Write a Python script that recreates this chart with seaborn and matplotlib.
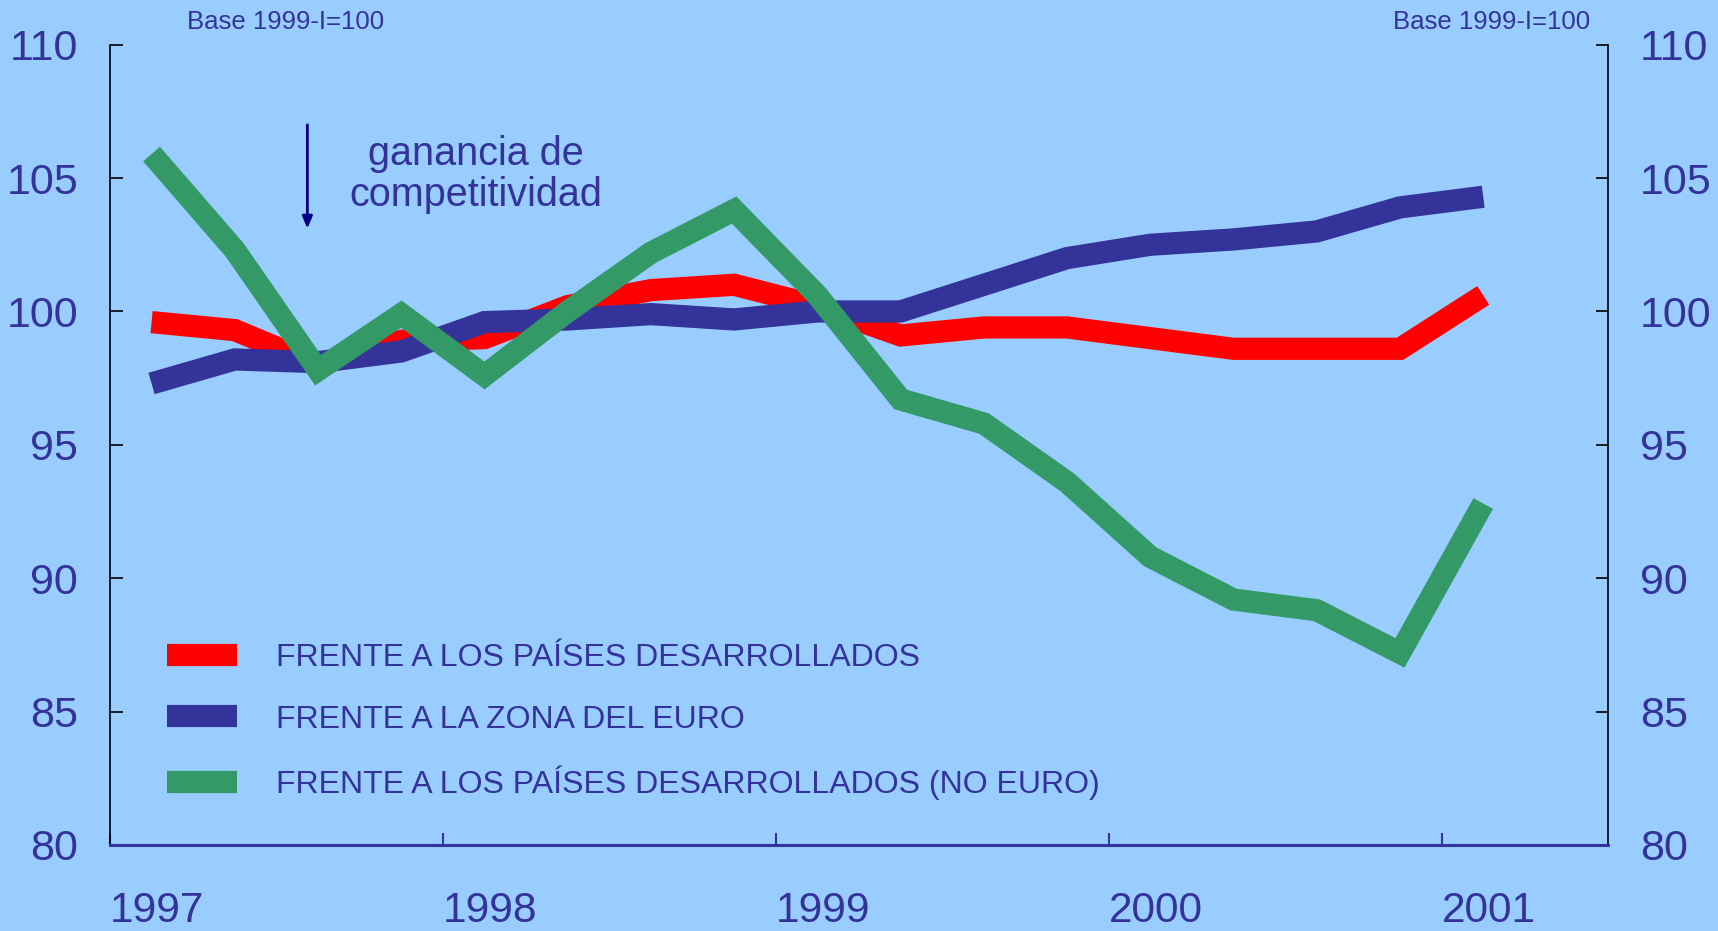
import matplotlib
matplotlib.use("Agg")
import matplotlib.pyplot as plt
import seaborn as sns
import pandas as pd
import numpy as np

# ---- data (quarterly, 1997-I .. 2001-I), base 1999-I = 100 ----
quarters = ["1997-I", "1997-II", "1997-III", "1997-IV",
            "1998-I", "1998-II", "1998-III", "1998-IV",
            "1999-I", "1999-II", "1999-III", "1999-IV",
            "2000-I", "2000-II", "2000-III", "2000-IV",
            "2001-I"]
desarrollados = [99.6, 99.3, 98.0, 98.9, 99.0, 100.2, 100.8, 101.0, 100.2,
                 99.1, 99.4, 99.4, 99.0, 98.6, 98.6, 98.6, 100.6]
zona_euro = [97.3, 98.2, 98.1, 98.5, 99.6, 99.7, 99.9, 99.7, 100.0,
             100.0, 101.0, 102.0, 102.5, 102.7, 103.0, 103.9, 104.3]
no_euro = [105.9, 102.3, 97.8, 99.9, 97.6, 100.0, 102.2, 103.8, 100.6,
           96.7, 95.8, 93.6, 90.8, 89.2, 88.8, 87.2, 92.8]
series_labels = ["FRENTE A LOS PAÍSES DESARROLLADOS",
                 "FRENTE A LA ZONA DEL EURO",
                 "FRENTE A LOS PAÍSES DESARROLLADOS (NO EURO)"]
year_labels = ["1997", "1998", "1999", "2000", "2001"]
y_ticks = [80, 85, 90, 95, 100, 105, 110]

# ---- styling ----
BG = "#99CCFF"
TXT = "#333399"
colors = ["#FF0000", "#333399", "#339966"]

sns.set_theme(style="white")
plt.rcParams["font.family"] = ["Liberation Sans", "DejaVu Sans"]

# x positions: mid-quarter
def qpos(q):
    y, r = q.split("-")
    k = {"I": 0, "II": 1, "III": 2, "IV": 3}[r]
    return int(y) + 0.125 + 0.25 * k

xs = [qpos(q) for q in quarters]
df = pd.DataFrame({"x": xs * 3,
                   "valor": desarrollados + zona_euro + no_euro,
                   "serie": [series_labels[0]] * len(xs) + [series_labels[1]] * len(xs)
                            + [series_labels[2]] * len(xs)})

fig = plt.figure(figsize=(17.18, 9.31), dpi=100, facecolor=BG)
ax = fig.add_axes([0.064, 0.0924, 0.872, 0.8596])
ax.set_facecolor(BG)

for lab, col in zip(series_labels, colors):
    sns.lineplot(data=df[df["serie"] == lab], x="x", y="valor", ax=ax, color=col,
                 linewidth=16, label=lab, solid_capstyle="butt",
                 solid_joinstyle="miter")

ax.set_xlim(1997, 2001.5)
ax.set_ylim(80, 110)
ax.set_xlabel("")
ax.set_ylabel("")

ax.set_xticks([int(y) for y in year_labels])
ax.set_xticklabels(year_labels, ha="left")
ax.set_yticks(y_ticks)
ax.set_yticklabels([str(v) for v in y_ticks])

ax.tick_params(axis="y", which="both", left=True, right=True, labelleft=True,
               labelright=True, direction="in", length=9, width=1.2, color="black",
               labelsize=31, labelcolor=TXT, pad=23)
ax.tick_params(axis="x", which="both", bottom=True, direction="in", length=9,
               width=1.5, color=TXT, labelsize=30.5, labelcolor=TXT, pad=33)

for s in ["left", "right"]:
    ax.spines[s].set_visible(True)
    ax.spines[s].set_color("black")
    ax.spines[s].set_linewidth(1.2)
ax.spines["top"].set_visible(False)
ax.spines["bottom"].set_color(TXT)
ax.spines["bottom"].set_linewidth(2.2)

leg = ax.legend(loc="upper left", bbox_to_anchor=(0.0295, 0.268), frameon=False,
                fontsize=23, handlelength=2.2, handletextpad=1.2,
                labelspacing=0.98, borderaxespad=0)
for t in leg.get_texts():
    t.set_color(TXT)

# annotation arrow
ax.annotate("", xy=(1997.593, 103.0), xytext=(1997.593, 107.1),
            arrowprops=dict(arrowstyle="-|>,head_length=0.6,head_width=0.25",
                            color="#000080", lw=2))
ax.text(1998.1, 105.15, "ganancia de\ncompetitividad", ha="center", va="center",
        fontsize=28.5, color=TXT, linespacing=1.1)

fig.text(286 / 1718, 1 - 22 / 931, "Base 1999-I=100", ha="center", va="center",
         fontsize=18.5, color=TXT)
fig.text(1492 / 1718, 1 - 22 / 931, "Base 1999-I=100", ha="center", va="center",
         fontsize=18.5, color=TXT)

fig.savefig("out.png", dpi=100, facecolor=BG)
